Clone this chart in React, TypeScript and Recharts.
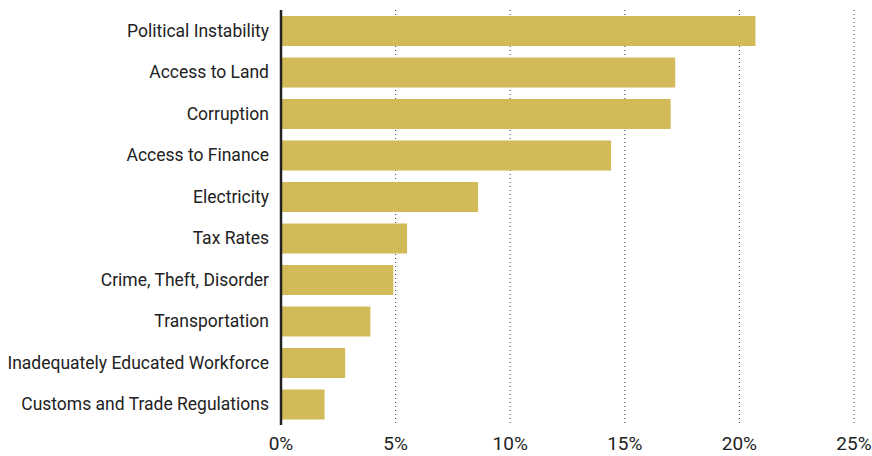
import React from 'react';
import { BarChart, Bar, XAxis, YAxis, CartesianGrid } from 'recharts';

// Share of firms naming each as their biggest obstacle (%)
const categories = [
  'Political Instability',
  'Access to Land',
  'Corruption',
  'Access to Finance',
  'Electricity',
  'Tax Rates',
  'Crime, Theft, Disorder',
  'Transportation',
  'Inadequately Educated Workforce',
  'Customs and Trade Regulations',
];
const shares = [20.7, 17.2, 17.0, 14.4, 8.6, 5.5, 4.9, 3.9, 2.8, 1.9];
const xTicks = [0, 5, 10, 15, 20, 25];

const data = categories.map((name, i) => ({ name, value: shares[i] }));

const FONT = 'Roboto, "DejaVu Sans", sans-serif';

const App = () => {
  return (
    <div style={{ position: 'absolute', left: 0, top: 0, width: 872, height: 456, background: '#fff' }}>
      <BarChart
        width={872}
        height={456}
        data={data}
        layout="vertical"
        margin={{ top: 10, right: 18, left: 0, bottom: 0 }}
        barSize={30}
      >
        <CartesianGrid horizontal={false} vertical stroke="#444" strokeDasharray="1 3" />
        <XAxis
          type="number"
          domain={[0, 25]}
          ticks={xTicks}
          tickFormatter={(v: number) => `${v}%`}
          axisLine={false}
          tickLine={false}
          height={31}
          tickMargin={6}
          tick={{ fill: '#222', fontSize: 19, fontFamily: FONT }}
        />
        <YAxis
          type="category"
          dataKey="name"
          width={281}
          axisLine={{ stroke: '#222', strokeWidth: 2.5 }}
          tickLine={false}
          tickMargin={6}
          tick={{ fill: '#222', fontSize: 17.5, fontFamily: FONT }}
        />
        <Bar dataKey="value" fill="#D3BA59" isAnimationActive={false} />
      </BarChart>
    </div>
  );
};

export default App;
